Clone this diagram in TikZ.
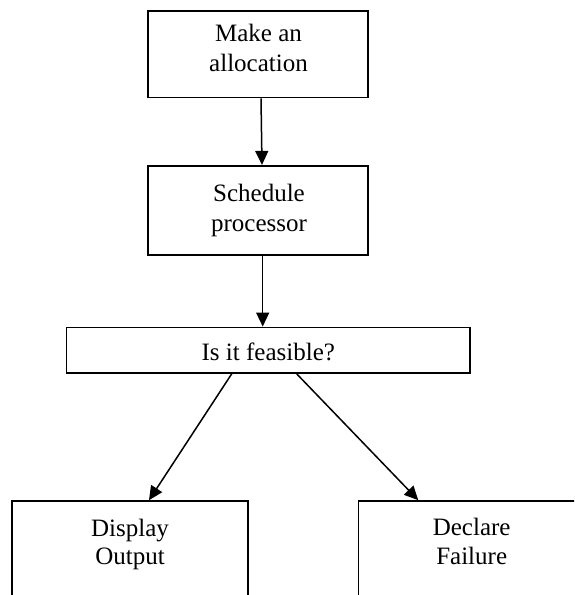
\documentclass[tikz,border=0pt]{standalone}
\usepackage{fontspec}
\setmainfont{Liberation Serif}
\usetikzlibrary{arrows.meta}
\begin{document}
\begin{tikzpicture}[x=1pt,y=-1pt,
  box/.style={draw, line width=1.6pt, inner sep=0pt},
  lbl/.style={anchor=base, inner sep=0pt, font=\fontsize{25}{30}\selectfont},
  arr/.style={line width=1.5pt, -{Triangle[length=14pt,width=13pt]}}]
\useasboundingbox (0,0) rectangle (574,595);
\clip (0,0) rectangle (574,595);
\node[box, minimum width=220pt, minimum height=86.7pt] (b1) at (258,54.3) {};
\node[box, minimum width=220pt, minimum height=89pt] (b2) at (258,210.2) {};
\node[box, minimum width=403.4pt, minimum height=45.7pt] (b3) at (268,350.2) {};
\node[box, minimum width=236pt, minimum height=200pt] (b4) at (129.7,601) {};
\node[box, minimum width=236pt, minimum height=200pt] (b5) at (476.3,601) {};
\node[lbl] (t1a) at (258.5,41.7) {Make an};
\node[lbl] (t1b) at (258.5,71.7) {allocation};
\node[lbl] (t2a) at (259,201.7) {Schedule};
\node[lbl] (t2b) at (259,231) {processor};
\node[lbl] (t3) at (268.3,360.7) {Is it feasible?};
\node[lbl] (t4a) at (130,536) {Display};
\node[lbl] (t4b) at (130,564.3) {Output};
\node[lbl] (t5a) at (471.7,535) {Declare};
\node[lbl] (t5b) at (471.7,564) {Failure};
\draw[arr] ([xshift=3pt]b1.south) -- ([xshift=4pt]b2.north);
\draw[arr] ([xshift=4.7pt]b2.south) -- ([xshift=-5.3pt]b3.north);
\draw[arr] ([xshift=-36.3pt]b3.south) -- ([xshift=19.3pt]b4.north);
\draw[arr] ([xshift=28.7pt]b3.south) -- ([xshift=-58pt]b5.north);
\end{tikzpicture}
\end{document}
